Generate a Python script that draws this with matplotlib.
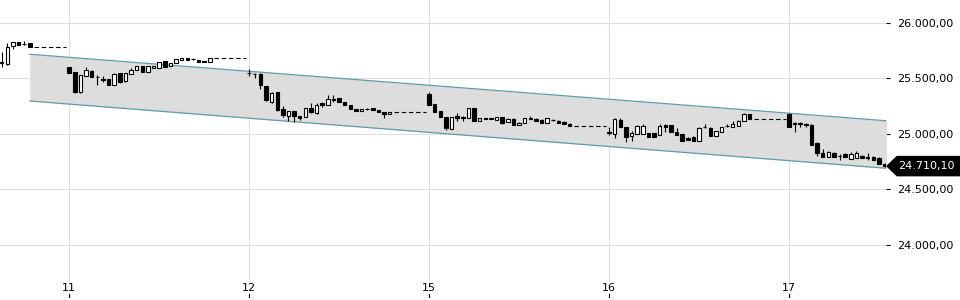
import matplotlib
matplotlib.use("Agg")
import matplotlib.pyplot as plt
from matplotlib.patches import Polygon
from matplotlib.transforms import blended_transform_factory
import numpy as np

# candles as (open, high, low, close), one list per trading day
day10 = [
    (25640, 25740, 25600, 25645), (25630, 25819, 25625, 25783), (25792, 25830, 25765, 25828),
    (25828, 25832, 25798, 25801), (25812, 25837, 25800, 25808), (25819, 25823, 25780, 25783),
]
day11 = [
    (25603, 25606, 25545, 25549), (25558, 25562, 25369, 25378), (25378, 25535, 25369, 25531),
    (25522, 25603, 25518, 25576), (25567, 25572, 25509, 25513), (25513, 25531, 25441, 25509),
    (25495, 25522, 25468, 25490), (25495, 25499, 25437, 25441), (25441, 25545, 25437, 25540),
    (25549, 25553, 25459, 25468), (25477, 25553, 25472, 25549), (25540, 25594, 25536, 25576),
    (25576, 25616, 25572, 25612), (25612, 25616, 25554, 25558), (25558, 25616, 25554, 25612),
    (25594, 25616, 25590, 25612), (25594, 25652, 25590, 25648), (25657, 25661, 25599, 25603),
    (25612, 25643, 25608, 25639), (25639, 25679, 25635, 25675), (25666, 25688, 25662, 25684),
    (25684, 25688, 25662, 25666), (25677, 25688, 25666, 25675), (25666, 25670, 25644, 25648),
    (25657, 25661, 25644, 25648), (25648, 25688, 25644, 25684),
]
day12 = [
    (25550, 25585, 25522, 25545), (25540, 25550, 25504, 25538), (25540, 25545, 25405, 25441),
    (25432, 25436, 25300, 25306), (25286, 25376, 25282, 25372), (25378, 25382, 25210, 25216),
    (25225, 25252, 25153, 25171), (25162, 25211, 25117, 25207), (25207, 25211, 25108, 25162),
    (25162, 25166, 25126, 25144), (25153, 25238, 25149, 25234), (25234, 25279, 25189, 25198),
    (25189, 25279, 25180, 25261), (25279, 25288, 25243, 25261), (25261, 25351, 25257, 25315),
    (25315, 25351, 25288, 25306), (25324, 25328, 25284, 25288), (25288, 25292, 25257, 25261),
    (25261, 25265, 25221, 25225), (25225, 25229, 25203, 25207), (25207, 25229, 25203, 25225),
    (25227, 25230, 25220, 25223), (25234, 25238, 25212, 25216), (25216, 25220, 25194, 25198),
    (25198, 25202, 25144, 25180), (25180, 25202, 25176, 25198),
]
day15 = [
    (25360, 25378, 25257, 25261), (25270, 25274, 25194, 25198), (25207, 25211, 25149, 25153),
    (25153, 25157, 25036, 25054), (25045, 25157, 25041, 25153), (25162, 25189, 25117, 25144),
    (25148, 25162, 25117, 25150), (25144, 25238, 25140, 25234), (25234, 25238, 25113, 25117),
    (25117, 25148, 25113, 25144), (25144, 25148, 25131, 25135), (25140, 25148, 25131, 25138),
    (25126, 25157, 25122, 25153), (25153, 25157, 25090, 25099), (25108, 25140, 25104, 25135),
    (25135, 25140, 25077, 25081), (25081, 25104, 25077, 25099), (25099, 25148, 25095, 25144),
    (25144, 25162, 25131, 25135), (25135, 25140, 25113, 25117), (25126, 25131, 25095, 25099),
    (25099, 25148, 25095, 25144), (25128, 25135, 25113, 25126), (25117, 25122, 25095, 25099),
    (25108, 25113, 25086, 25090), (25086, 25095, 25070, 25075),
]
day16 = [
    (25018, 25063, 24991, 25009), (25000, 25140, 24964, 25135), (25126, 25144, 25059, 25063),
    (25063, 25067, 24928, 24973), (24982, 25027, 24937, 25009), (25000, 25077, 24996, 25072),
    (25000, 25090, 24996, 25072), (25009, 25013, 24969, 24973), (25009, 25013, 24969, 24973),
    (24991, 25090, 24987, 25072), (25081, 25090, 25018, 25063), (25081, 25085, 25014, 25018),
    (25018, 25054, 24987, 24991), (25000, 25004, 24933, 24937), (24964, 24969, 24946, 24950),
    (24973, 24978, 24933, 24937), (24937, 25059, 24933, 25054), (25059, 25090, 25054, 25063),
    (25054, 25059, 24978, 24982), (24982, 25031, 24978, 25027), (25018, 25067, 25014, 25063),
    (25070, 25090, 25063, 25074), (25063, 25117, 25059, 25090), (25072, 25122, 25068, 25117),
    (25117, 25189, 25113, 25180), (25180, 25184, 25131, 25135),
]
day17 = [
    (25180, 25189, 25059, 25063), (25099, 25104, 25018, 25090), (25099, 25104, 25063, 25092),
    (25090, 25095, 25063, 25081), (25081, 25086, 24897, 24901), (24919, 24923, 24802, 24829),
    (24829, 24865, 24789, 24793), (24793, 24842, 24789, 24838), (24829, 24833, 24789, 24793),
    (24802, 24820, 24766, 24798), (24820, 24824, 24789, 24793), (24775, 24838, 24771, 24820),
    (24784, 24847, 24780, 24829), (24802, 24806, 24780, 24784), (24790, 24829, 24766, 24786),
    (24793, 24797, 24762, 24766), (24784, 24789, 24725, 24730), (24730, 24735, 24705, 24710.10),
]
days = [day10, day11, day12, day15, day16, day17]
day_labels = ["11", "12", "15", "16", "17"]

# trend channel: value at left end and right end
channel_upper = [25718, 25117]
channel_lower = [25297, 24689]

y_ticks = [24000, 24500, 25000, 25500, 26000]

SLOTS = 32  # slots per day on the x axis
FIRST = 20  # first slot of a full session shown for day 10


def fmt(v):
    s = f"{v:,.2f}"
    return s.replace(",", "X").replace(".", ",").replace("X", ".")


fig = plt.figure(figsize=(9.6, 3.0), dpi=100)
ax = fig.add_axes([0, 0.06, 886 / 960, 0.94])

xs, o, h, l, c = [], [], [], [], []
for i, d in enumerate(days):
    start = (i - 1) * SLOTS + (FIRST if i == 0 else 0)
    for j, (op, hi, lo, cl) in enumerate(d):
        xs.append(start + j)
        o.append(op); h.append(hi); l.append(lo); c.append(cl)
    if i < len(days) - 1:
        last = start + len(d) - 1
        ax.plot([last + 0.8, i * SLOTS - 0.5], [d[-1][3]] * 2, color="black",
                lw=0.8, ls=(0, (4, 2.5)), zorder=3)
xs, o, h, l, c = map(np.array, (xs, o, h, l, c))

xmin, xmax = -12.3, 145.25
cx = [-7, xmax + 0.5]
ax.fill_between(cx, channel_lower, channel_upper, color="#dddddd", zorder=1, lw=0)
ax.plot(cx, channel_upper, color="#5f9ea0", lw=0.9, zorder=2)
ax.plot(cx, channel_lower, color="#5f9ea0", lw=0.9, zorder=2)

ax.vlines(xs, l, h, color="black", lw=0.8, zorder=4)
up = c >= o
bottom = np.minimum(o, c)
height = np.maximum(np.abs(c - o), 3)
ax.bar(xs[up], height[up], bottom=bottom[up], width=0.62, color="white",
       edgecolor="black", lw=0.8, zorder=5)
ax.bar(xs[~up], height[~up], bottom=bottom[~up], width=0.62, color="black",
       edgecolor="black", lw=0.8, zorder=5)

ax.set_xlim(xmin, xmax)
ax.set_ylim(23666, 26207)
for s in ax.spines.values():
    s.set_visible(False)

day_x = [k * SLOTS for k in range(len(day_labels))]
ax.set_xticks(day_x, day_labels)
ax.set_yticks(y_ticks, [fmt(v) for v in y_ticks])
ax.yaxis.tick_right()
ax.tick_params(axis="y", length=3, width=0.8, pad=5, labelsize=8, right=True)
ax.tick_params(axis="x", length=0, pad=1, labelsize=8)
ax.grid(True, color="#dddddd", lw=0.8, zorder=0)
ax.set_axisbelow(True)

# small tick marks under the day labels
tr = blended_transform_factory(ax.transData, ax.transAxes)
for x in day_x:
    ax.plot([x, x], [-0.043, -0.054], color="black", lw=0.8, transform=tr, clip_on=False)

# last price marker
last = c[-1]
bt = blended_transform_factory(fig.transFigure, ax.transData)
hh = 86
pts = [(887 / 960, last), (897 / 960, last + hh), (1.0, last + hh), (1.0, last - hh), (897 / 960, last - hh)]
fig.patches.append(Polygon(pts, closed=True, color="black", transform=bt, figure=fig))
fig.text(898 / 960, last, fmt(last), transform=bt, color="white", fontsize=8, va="center", ha="left")

fig.savefig("out.png", dpi=100)
